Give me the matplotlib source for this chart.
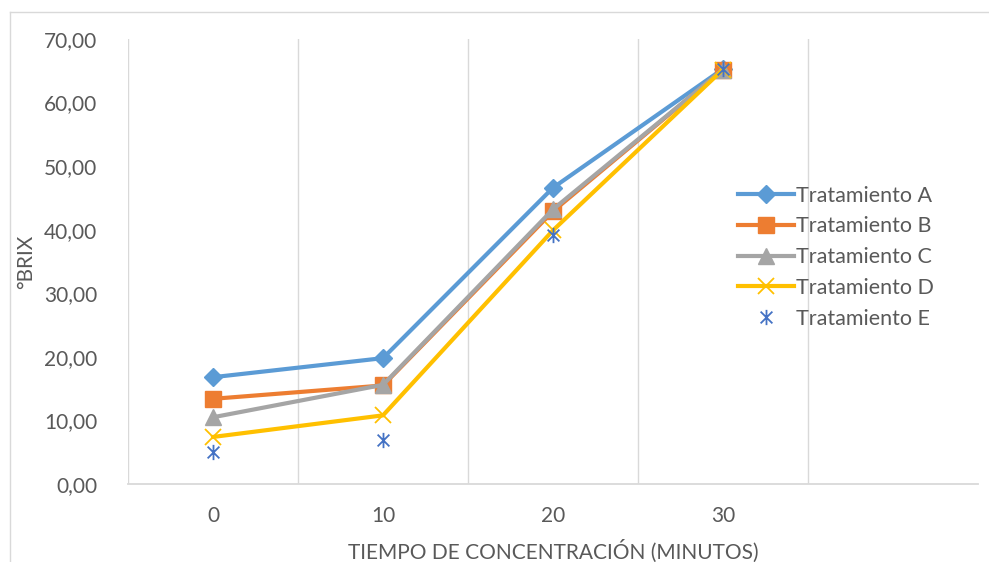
import matplotlib.pyplot as plt
from matplotlib.path import Path
from matplotlib.lines import Line2D

tiempos = ["0", "10", "20", "30"]
trat_a = [16.8, 19.8, 46.6, 65.3]
trat_b = [13.4, 15.5, 42.9, 65.2]
trat_c = [10.5, 15.6, 43.2, 65.2]
trat_d = [7.4, 10.8, 39.9, 65.2]
trat_e = [5.0, 6.9, 39.2, 65.3]

plt.rcParams['font.family'] = ['Lato', 'DejaVu Sans']
gris = '#595959'

# asterisco estilo Excel: X con barra vertical
star = Path([(-1, -1), (1, 1), (-1, 1), (1, -1), (0, -1.3), (0, 1.3)],
            [Path.MOVETO, Path.LINETO, Path.MOVETO, Path.LINETO, Path.MOVETO, Path.LINETO])

fig = plt.figure(figsize=(9.89, 5.62), dpi=100)
ax = fig.add_axes([128/989, 1-484/562, 850/989, 445/562])

x = list(range(len(tiempos)))
ax.plot(x, trat_a, color='#5B9BD5', lw=3, marker='D', ms=9, label='Tratamiento A')
ax.plot(x, trat_b, color='#ED7D31', lw=3, marker='s', ms=11, label='Tratamiento B')
ax.plot(x, trat_c, color='#A5A5A5', lw=3, marker='^', ms=11, label='Tratamiento C')
ax.plot(x, trat_d, color='#FFC000', lw=3, marker='x', ms=11, mew=1.3, label='Tratamiento D')
ax.plot(x, trat_e, ls='none', color='#4472C4', marker=star, ms=11, mew=1.3,
        label='Tratamiento E')

ax.set_xlim(-0.5, 4.5)
ax.set_ylim(0, 70)
ax.set_yticks(range(0, 71, 10))
ax.set_yticklabels([f"{v},00" for v in range(0, 71, 10)])
ax.set_xticks(x)
ax.set_xticklabels(tiempos)
for g in [-0.5, 0.5, 1.5, 2.5, 3.5]:
    ax.axvline(g, color='#D9D9D9', lw=1.0, zorder=0)
ax.tick_params(length=0, labelsize=15, colors=gris, pad=22)
ax.tick_params(axis='x', pad=16)
for s in ['top', 'right', 'left']:
    ax.spines[s].set_visible(False)
ax.spines['bottom'].set_color('#D9D9D9')
ax.spines['bottom'].set_linewidth(1.3)

ax.set_xlabel('TIEMPO DE CONCENTRACIÓN (MINUTOS)', fontsize=15, color=gris, labelpad=10)
ax.set_ylabel('°BRIX', fontsize=15, color=gris, labelpad=6)

ax.legend(loc='upper left', bbox_to_anchor=(0.707, 0.69), frameon=False, fontsize=15.5,
          labelcolor=gris, handlelength=2.6, handletextpad=0.1, labelspacing=0.5,
          borderaxespad=0)

# borde exterior del gráfico
fig.add_artist(Line2D([10/989, 10/989], [0, 1-12/562], color='#D9D9D9', lw=1))
fig.add_artist(Line2D([10/989, 1], [1-12/562, 1-12/562], color='#D9D9D9', lw=1))

plt.savefig("out.png", dpi=100)
